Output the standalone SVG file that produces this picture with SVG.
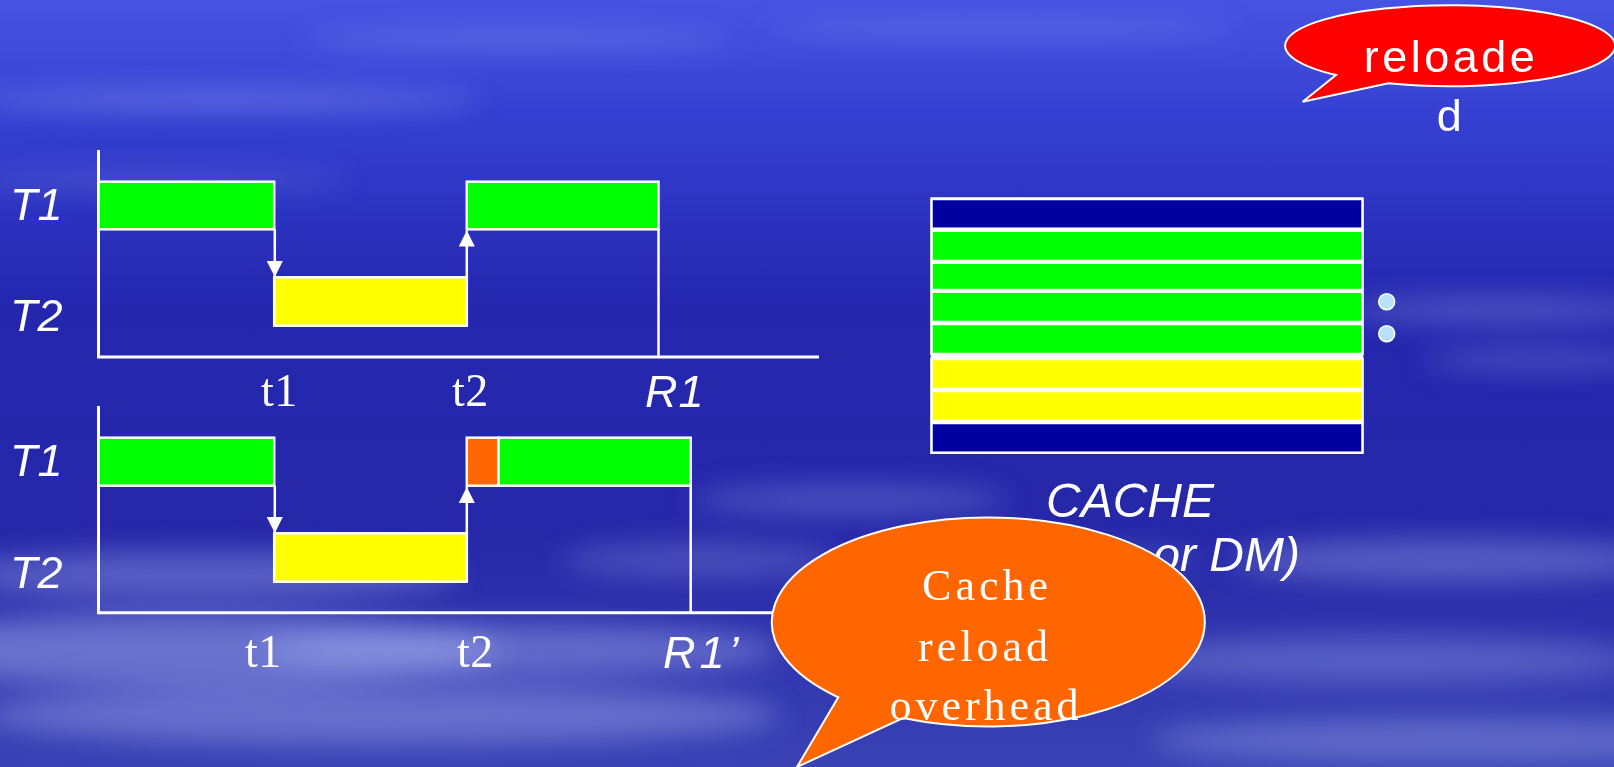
<svg xmlns="http://www.w3.org/2000/svg" width="1614" height="767" viewBox="0 0 1614 767">
<defs>
<linearGradient id="bg" x1="0" y1="0" x2="0" y2="1">
<stop offset="0" stop-color="#4754e2"/>
<stop offset="0.15" stop-color="#3540d2"/>
<stop offset="0.4" stop-color="#2426ae"/>
<stop offset="0.7" stop-color="#2628a8"/>
<stop offset="1" stop-color="#3a42b4"/>
</linearGradient>
<filter id="blur" x="-20%" y="-80%" width="140%" height="260%"><feGaussianBlur stdDeviation="14"/></filter>
<marker id="ah" markerUnits="userSpaceOnUse" markerWidth="16" markerHeight="16" refX="16" refY="8" orient="auto" viewBox="0 0 16 16">
<path d="M0 0 L16 8 L0 16 Z" fill="#ffffff"/>
</marker>
<style>
.bg{fill:url(#bg)}
.cl{fill:#b0bcf4}
.ax{stroke:#ffffff;stroke-width:3;fill:none}
.ln{stroke:#ffffff;stroke-width:2.5;fill:none}
.g{fill:#00ff00;stroke:#ffffff;stroke-width:2.5}
.y{fill:#ffff00;stroke:#ffffff;stroke-width:2.5}
.o{fill:#ff6600;stroke:#ffffff;stroke-width:2.5}
.n{fill:#0000a0;stroke:#ffffff;stroke-width:2.5}
.lab{font-family:"Liberation Sans",Arial,sans-serif;font-style:italic;font-size:45px;fill:#ffffff}
.lab.r{letter-spacing:1px}
.lab.big{font-size:48px}
.tt{font-family:"Liberation Serif","Times New Roman",serif;font-size:46px;fill:#ffffff;letter-spacing:0.5px}
.bt{font-family:"Liberation Serif","Times New Roman",serif;font-size:44px;fill:#ffffff;letter-spacing:4px;text-anchor:middle}
.rt{font-family:"Liberation Sans",Arial,sans-serif;font-size:45px;fill:#ffffff;letter-spacing:3.5px;text-anchor:middle}
</style>
</defs>

<g id="background">
<rect class="bg" x="0" y="0" width="1614" height="767"/>
<g filter="url(#blur)" class="cl">
<ellipse cx="220" cy="100" rx="260" ry="9" opacity="0.4"/>
<ellipse cx="520" cy="40" rx="220" ry="8" opacity="0.3"/>
<ellipse cx="150" cy="180" rx="200" ry="8" opacity="0.25"/>
<ellipse cx="1000" cy="30" rx="240" ry="8" opacity="0.25"/>
<ellipse cx="1500" cy="310" rx="160" ry="12" opacity="0.35"/>
<ellipse cx="1540" cy="360" rx="120" ry="10" opacity="0.3"/>
<ellipse cx="1450" cy="560" rx="220" ry="22" opacity="0.35"/>
<ellipse cx="1380" cy="660" rx="260" ry="24" opacity="0.3"/>
<ellipse cx="1450" cy="740" rx="300" ry="22" opacity="0.35"/>
<ellipse cx="850" cy="500" rx="160" ry="14" opacity="0.3"/>
<ellipse cx="1040" cy="560" rx="160" ry="12" opacity="0.25"/>
<ellipse cx="200" cy="575" rx="260" ry="24" opacity="0.35"/>
<ellipse cx="180" cy="650" rx="320" ry="36" opacity="0.45"/>
<ellipse cx="520" cy="650" rx="260" ry="26" opacity="0.4"/>
<ellipse cx="380" cy="715" rx="400" ry="30" opacity="0.4"/>
<ellipse cx="700" cy="560" rx="140" ry="18" opacity="0.25"/>
</g>
</g>

<g id="connectors">
<line class="ax" x1="98.5" y1="150" x2="98.5" y2="357"/>
<line class="ax" x1="97" y1="357" x2="819" y2="357"/>
<line class="ln" x1="274.8" y1="229.3" x2="274.8" y2="277" marker-end="url(#ah)"/>
<line class="ln" x1="466.8" y1="277.3" x2="466.8" y2="230.5" marker-end="url(#ah)"/>
<line class="ln" x1="658.5" y1="229.3" x2="658.5" y2="357"/>
<line class="ax" x1="98.5" y1="406" x2="98.5" y2="612.7"/>
<line class="ax" x1="97" y1="612.7" x2="800" y2="612.7"/>
<line class="ln" x1="274.8" y1="485.7" x2="274.8" y2="533" marker-end="url(#ah)"/>
<line class="ln" x1="466.8" y1="533.3" x2="466.8" y2="487" marker-end="url(#ah)"/>
<line class="ln" x1="690.7" y1="485.7" x2="690.7" y2="612.7"/>
</g>

<g id="chart1">
<rect id="c1-t1a" class="g" x="98.5" y="181.7" width="175.7" height="47.6"/>
<rect id="c1-t2" class="y" x="274.2" y="277.3" width="192.6" height="48.4"/>
<rect id="c1-t1b" class="g" x="466.8" y="181.7" width="191.7" height="47.6"/>
<text class="lab" x="10" y="220">T1</text>
<text class="lab" x="10" y="331">T2</text>
<text class="tt" x="261" y="406">t1</text>
<text class="tt" x="452" y="406">t2</text>
<text class="lab r" x="645" y="407">R1</text>
</g>

<g id="chart2">
<rect id="c2-t1a" class="g" x="98.5" y="437.7" width="175.7" height="48"/>
<rect id="c2-t2" class="y" x="274.2" y="533.3" width="192.6" height="48.4"/>
<rect id="c2-reload" class="o" x="466.8" y="437.7" width="31.8" height="48"/>
<rect id="c2-t1b" class="g" x="498.6" y="437.7" width="192.1" height="48"/>
<text class="lab" x="10" y="476">T1</text>
<text class="lab" x="10" y="588">T2</text>
<text class="tt" x="245" y="667">t1</text>
<text class="tt" x="457" y="667">t2</text>
<text class="lab r" x="663" y="668" style="letter-spacing:4px">R1’</text>
</g>

<g id="cache">
<rect x="930.7" y="197.3" width="432.6" height="256.7" fill="#ffffff"/>
<rect class="n" x="931.5" y="199" width="431" height="29.7"/>
<rect class="g" x="931.5" y="230.7" width="431" height="30.3"/>
<rect class="g" x="931.5" y="262.7" width="431" height="27.3"/>
<rect class="g" x="931.5" y="291.7" width="431" height="30.3"/>
<rect class="g" x="931.5" y="324" width="431" height="30"/>
<rect class="y" x="931.5" y="359" width="431" height="30"/>
<rect class="y" x="931.5" y="391" width="431" height="30"/>
<rect class="n" x="931.5" y="423" width="431" height="29.7"/>
<circle cx="1386.7" cy="301.7" r="8" fill="#b8e2fa" stroke="#ffffff" stroke-width="1.5"/>
<circle cx="1386.7" cy="333.7" r="8" fill="#b8e2fa" stroke="#ffffff" stroke-width="1.5"/>
<text class="lab big" x="1130" y="517" text-anchor="middle">CACHE</text>
<text class="lab big" x="1300" y="571" text-anchor="end">or DM)</text>
</g>

<g id="bubble-overhead">
<path d="M 838.3 697.3 A 216.5 104.5 0 1 1 903 718 L 797 767 Z" fill="#ff6600" stroke="#ffffff" stroke-width="2"/>
<text class="bt" x="987" y="600">Cache</text>
<text class="bt" x="985" y="661">reload</text>
<text class="bt" x="986" y="720">overhead</text>
</g>

<g id="bubble-reloaded">
<path d="M 1336 75 A 165 40.5 0 1 1 1388.3 83.3 L 1302.7 101.7 Z" fill="#ff0000" stroke="#ffffff" stroke-width="2"/>
<text class="rt" x="1451" y="72">reloade</text>
<text class="rt" x="1451" y="131">d</text>
</g>
</svg>
